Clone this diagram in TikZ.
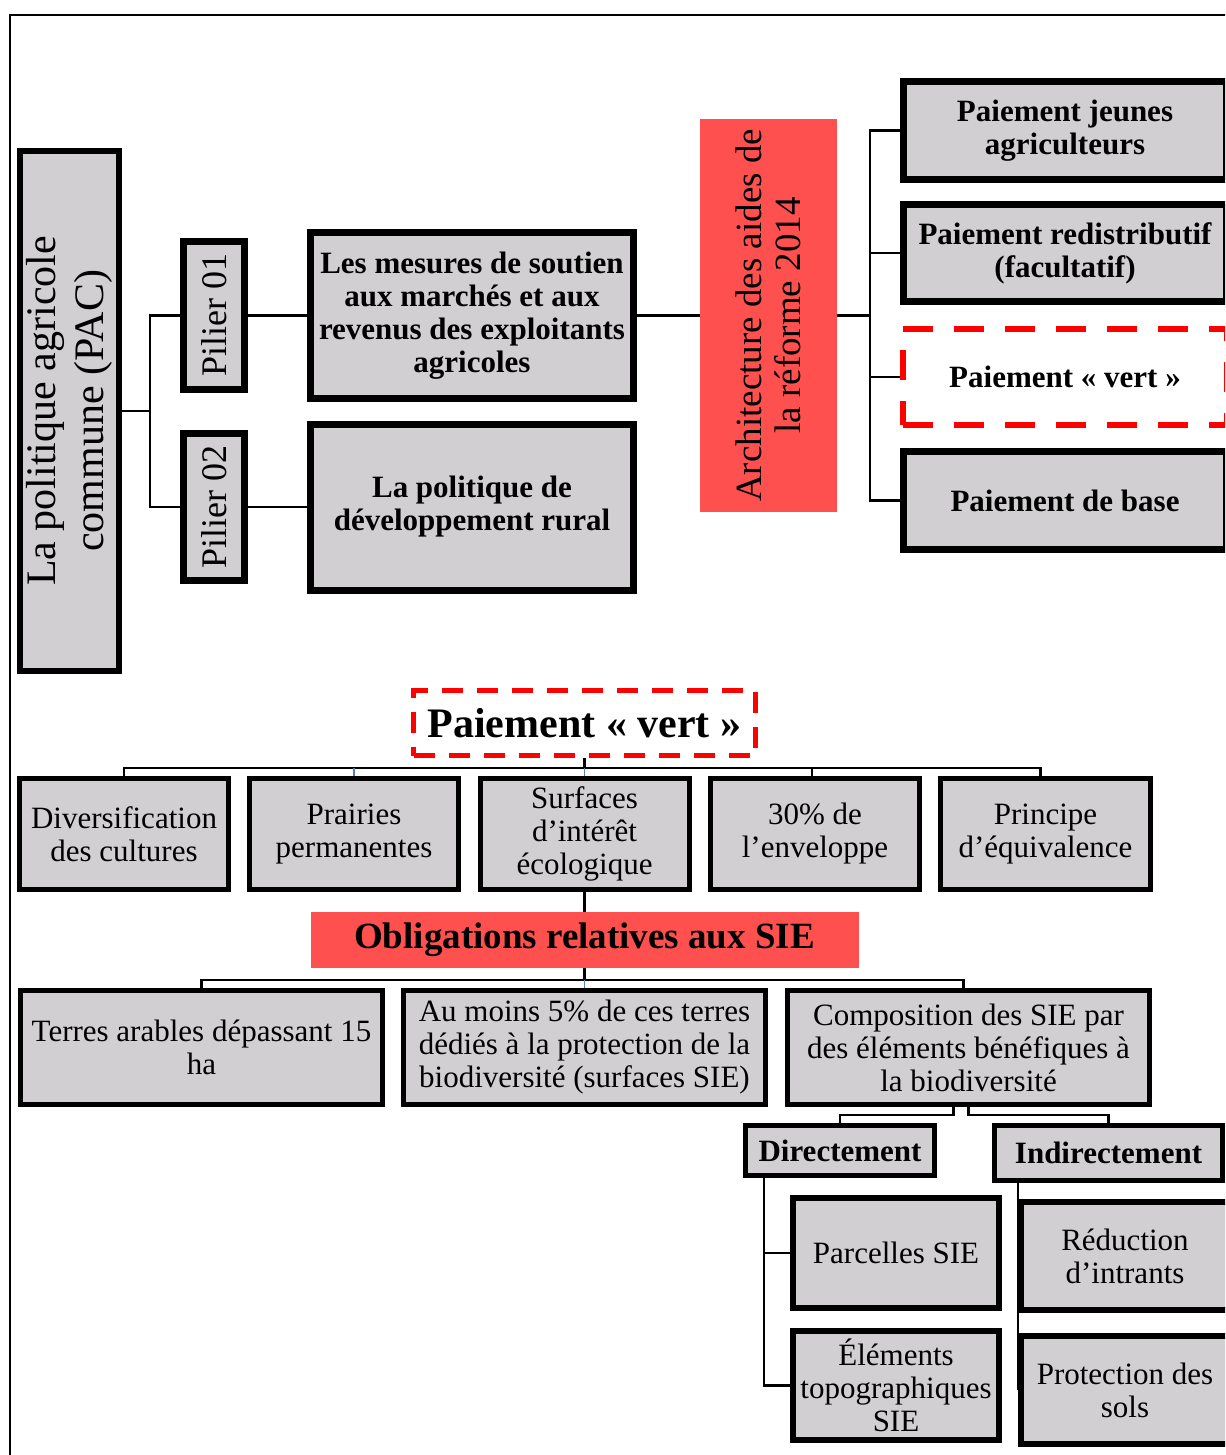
\documentclass[tikz,border=0pt]{standalone}
\usepackage{fontspec}
\setmainfont{Liberation Serif}
\usetikzlibrary{calc}
\definecolor{boxgray}{RGB}{209,207,209}
\definecolor{hired}{RGB}{255,80,80}
\definecolor{dashred}{RGB}{255,0,0}
\definecolor{linkblue}{RGB}{79,129,189}
\begin{document}
\begin{tikzpicture}[x=1pt,y=-1pt,
  gbox/.style={draw=black, fill=boxgray, line width=#1, inner sep=0pt, align=center},
  gbox/.default=7,
  redbox/.style={draw=none, fill=hired, inner sep=0pt, align=center},
  vertbox/.style={draw=dashred, fill=white, line width=#1, inner sep=0pt, align=center},
  dim/.style 2 args={minimum width=#1pt, minimum height=#2pt},
  bf31/.style={font=\fontsize{31}{33}\selectfont\bfseries},
  rm31/.style={font=\fontsize{31}{33}\selectfont},
  conn/.style={draw=black, line width=2.5pt},
  bluelink/.style={draw=linkblue, line width=1.8pt}
]
\useasboundingbox (0,0) rectangle (1225,1455);
\clip (0,0) rectangle (1225,1455);

% outer frame
\draw[line width=2.5pt] (10,1500) -- (10,15) -- (1300,15);

% ---------- upper part: structure of the CAP ----------
\node[gbox=6, dim={520}{99}, rotate=90, font=\fontsize{42}{48}\selectfont]
  (pac) at (69.5,411) {La politique agricole\\commune (PAC)};
\node[gbox, dim={148}{61}, rotate=90, font=\fontsize{36}{40}\selectfont]
  (p1) at (214,315.5) {Pilier 01};
\node[gbox, dim={147}{61}, rotate=90, font=\fontsize{36}{40}\selectfont]
  (p2) at (214,507) {Pilier 02};
\node[gbox, dim={323}{166}, bf31] (mes) at (472,315.5)
  {Les mesures de soutien\\aux marchés et aux\\revenus des exploitants\\agricoles};
\node[gbox, dim={323}{166}, bf31] (pol) at (472,507)
  {La politique de\\développement rural};
\node[redbox, dim={393}{137}, rotate=90, font=\fontsize{37}{39}\selectfont]
  (arch) at (768.5,315.5) {Architecture des aides de\\la réforme 2014};
\node[gbox, dim={323}{98}, bf31] (jeu) at (1065,130.5)
  {Paiement jeunes\\agriculteurs};
\node[gbox, dim={323}{97}, bf31] (redi) at (1065,253)
  {Paiement redistributif\\(facultatif)};
\node[vertbox=6, dash pattern=on 30pt off 21pt, dim={324}{96}, bf31] (vert) at (1065,377)
  {Paiement « vert »};
\node[gbox, dim={323}{98}, bf31] (base) at (1065,500.5)
  {Paiement de base};

\draw[conn] (pac.south) -- ++(28,0) coordinate (j1);
\draw[conn] (p1.north) -| (j1) |- (p2.north);
\draw[conn] (p1.south) -- (mes.west);
\draw[conn] (p2.south) -- (pol.west);
\draw[conn] (mes.east) -- (arch.north);
\draw[conn] (arch.south) -- ++(33,0) coordinate (j2);
\draw[conn] (jeu.west) -| (j2) |- (base.west);
\draw[conn] (j2) |- (redi.west);
\draw[conn] (j2) |- (vert.west);

% ---------- lower part: green payment ----------
\node[vertbox=5, dash pattern=on 21pt off 14pt, dim={342}{65},
  font=\fontsize{42}{46}\selectfont\bfseries] (pv) at (584.5,723) {Paiement « vert »};
\node[gbox=5, dim={209}{111}, rm31] (div) at (124,834) {Diversification\\des cultures};
\node[gbox=5, dim={209}{111}, rm31] (pra) at (354,834) {Prairies\\permanentes};
\node[gbox=5, dim={209}{111}, rm31] (sur) at (584.5,834) {Surfaces\\d’intérêt\\écologique};
\node[gbox=5, dim={209}{111}, rm31] (tr) at (815,834) {30\% de\\l’enveloppe};
\node[gbox=5, dim={210}{111}, rm31] (pri) at (1045.5,834) {Principe\\d’équivalence};

\coordinate (bus1) at (0,768);
\draw[conn] (pv.south) -- (pv.south |- bus1);
\draw[conn] (div.north) -- (div.north |- bus1)
  -- ([xshift=-5pt]pri.north |- bus1) -- ([xshift=-5pt]pri.north);
\draw[conn] ([xshift=-3pt]tr.north |- bus1) -- ([xshift=-3pt]tr.north);
\draw[bluelink] (pra.north |- bus1) -- (pra.north);
\draw[bluelink] (sur.north |- bus1) -- (sur.north);

\node[redbox, dim={548}{56}, font=\fontsize{37}{40}\selectfont\bfseries]
  (obl) at (584.5,940) {Obligations relatives aux SIE};
\draw[conn] (sur.south) -- (obl.north);

\node[gbox=5, dim={362}{114}, rm31] (ter) at (201.5,1047.5)
  {Terres arables dépassant 15\\ha};
\node[gbox=5, dim={362}{114}, rm31] (aum) at (584.5,1047.5)
  {Au moins 5\% de ces terres\\dédiés à la protection de la\\biodiversité (surfaces SIE)};
\node[gbox=5, dim={362}{114}, rm31] (comp) at (968.5,1047.5)
  {Composition des SIE par\\des éléments bénéfiques à\\la biodiversité};

\coordinate (bus2) at (0,980);
\draw[conn] (obl.south) -- (obl.south |- bus2);
\draw[conn] (ter.north) -- (ter.north |- bus2)
  -- ([xshift=-5pt]comp.north |- bus2) -- ([xshift=-5pt]comp.north);
\draw[bluelink] (aum.north |- bus2) -- (aum.north);

\node[gbox=5, dim={189}{50}, bf31] (dir) at (840,1150.5) {Directement};
\node[gbox=5, dim={228}{55}, bf31] (ind) at (1108.5,1153) {Indirectement};
\draw[conn] ([xshift=-15pt]comp.south) -- ++(0,8) -| (dir.north);
\draw[conn] ([xshift=0pt]comp.south) -- ++(0,8) -| (ind.north);

\node[gbox=6, dim={206}{110}, rm31] (par) at (896,1253) {Parcelles SIE};
\node[gbox=6, dim={206}{109}, rm31] (ele) at (896,1385.5) {Éléments\\topographiques\\SIE};
\node[gbox=6, dim={208}{108}, rm31] (redu) at (1125,1256) {Réduction\\d’intrants};
\node[gbox=6, dim={208}{108}, rm31] (pro) at (1125,1390) {Protection des\\sols};

\draw[conn] ([xshift=-76pt]dir.south) |- (par.west);
\draw[conn] ([xshift=-76pt]dir.south) |- (ele.west);
\draw[conn] ([xshift=-90.5pt]ind.south) |- (redu.west);
\draw[conn] ([xshift=-90.5pt]ind.south) |- (pro.west);
\end{tikzpicture}
\end{document}
